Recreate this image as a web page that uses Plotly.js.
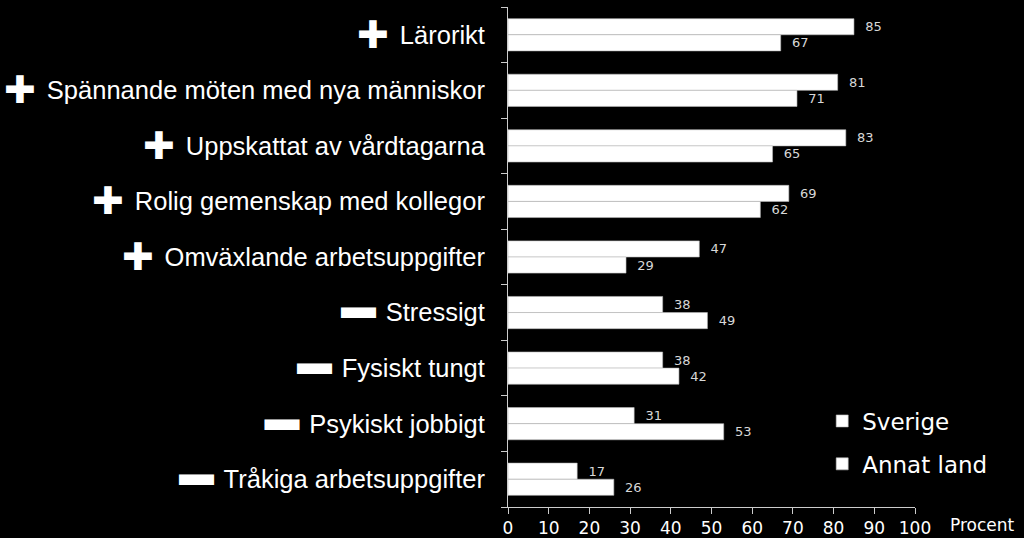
<!DOCTYPE html>
<html>
<head>
<meta charset="utf-8">
<script src="https://cdn.plot.ly/plotly-3.0.1.min.js"></script>
<style>
  html, body { margin: 0; padding: 0; background: #000; }
  #chart { width: 1024px; height: 538px; }
</style>
</head>
<body>
<div id="chart"></div>
<script>
var categories = ['Lärorikt', 'Spännande möten med nya människor', 'Uppskattat av vårdtagarna',
  'Rolig gemenskap med kollegor', 'Omväxlande arbetsuppgifter', 'Stressigt',
  'Fysiskt tungt', 'Psykiskt jobbigt', 'Tråkiga arbetsuppgifter'];
var signs = ['+', '+', '+', '+', '+', '-', '-', '-', '-'];
var sverige = [85, 81, 83, 69, 47, 38, 38, 31, 17];
var annatLand = [67, 71, 65, 62, 29, 49, 42, 53, 26];
var xTicks = [0, 10, 20, 30, 40, 50, 60, 70, 80, 90, 100];

// label with the plus/minus mark in front of it
function tickLabel(name, sign) {
  var icon = sign === '+'
    ? '<span style="font-size:38px;baseline-shift:-4px">✚ </span>'
    : '<span style="font-size:35px;baseline-shift:3px">▬ </span>';
  return icon + name;
}
var tickText = categories.map(function (c, i) { return tickLabel(c, signs[i]); });

function barTrace(name, vals) {
  return {
    type: 'bar',
    orientation: 'h',
    name: name,
    legendgroup: name,
    y: categories,
    x: vals,
    text: vals.map(function (v) { return '  ' + v; }),
    textposition: 'outside',
    cliponaxis: false,
    textfont: { family: 'DejaVu Sans', size: 13, color: '#d8d8d8' },
    marker: { color: '#ffffff', line: { color: '#bbbbbb', width: 0.6 } },
    hoverinfo: 'x+name'
  };
}

var data = [barTrace('Sverige', sverige), barTrace('Annat land', annatLand)];

var layout = {
  width: 1024,
  height: 538,
  paper_bgcolor: '#000000',
  plot_bgcolor: '#000000',
  barmode: 'group',
  bargap: 0.42,
  bargroupgap: 0,
  margin: { l: 508, r: 109, t: 7, b: 31, pad: 0 },
  font: { family: 'DejaVu Sans', color: '#ffffff' },
  xaxis: {
    range: [0, 100],
    tickvals: xTicks,
    ticktext: xTicks.map(String),
    showgrid: false,
    zeroline: false,
    showline: true,
    linecolor: '#cccccc',
    linewidth: 1,
    ticks: 'outside',
    ticklen: 6,
    tickcolor: '#cccccc',
    tickfont: { family: 'DejaVu Sans', size: 17, color: '#ffffff' },
    fixedrange: true
  },
  yaxis: {
    autorange: 'reversed',
    tickvals: categories,
    ticktext: tickText,
    tickson: 'boundaries',
    showgrid: false,
    zeroline: false,
    showline: true,
    linecolor: '#cccccc',
    linewidth: 1,
    ticks: 'outside',
    ticklen: 6,
    tickcolor: '#cccccc',
    ticklabelstandoff: 17,
    tickfont: { family: 'Liberation Sans', size: 25.5, color: '#ffffff' },
    fixedrange: true
  },
  showlegend: true,
  legend: {
    x: 0.772,
    y: 0.215,
    xanchor: 'left',
    yanchor: 'top',
    bgcolor: 'rgba(0,0,0,0)',
    traceorder: 'grouped',
    tracegroupgap: 10,
    itemwidth: 30,
    font: { family: 'DejaVu Sans', size: 23, color: '#ffffff' }
  },
  annotations: [{
    xref: 'paper', yref: 'paper',
    x: 1.08, y: 0,
    xanchor: 'left', yanchor: 'top',
    yshift: -6,
    text: 'Procent',
    showarrow: false,
    font: { family: 'DejaVu Sans', size: 17, color: '#ffffff' }
  }]
};

Plotly.newPlot('chart', data, layout, { displayModeBar: false, staticPlot: true });
</script>
</body>
</html>
